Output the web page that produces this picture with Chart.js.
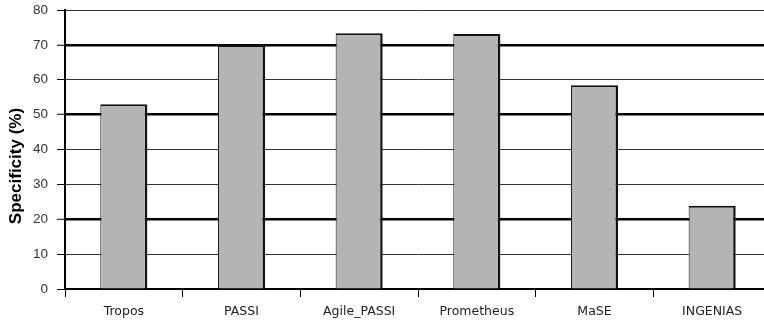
<!DOCTYPE html>
<html>
<head>
<meta charset="utf-8">
<script src="https://cdn.jsdelivr.net/npm/chart.js@4"></script>
<style>
  html, body { margin: 0; padding: 0; background: #fff; overflow: hidden; }
  #wrap { width: 771px; height: 320px; }
</style>
</head>
<body>
<div id="wrap"><canvas id="specChart" width="771" height="320"></canvas></div>
<script>
// Chart data
const methods = ['Tropos', 'PASSI', 'Agile_PASSI', 'Prometheus', 'MaSE', 'INGENIAS'];
const specificity = [53, 70, 73.3, 73.1, 58.4, 23.9];
const yTicks = [0, 10, 20, 30, 40, 50, 60, 70, 80];
const boldLines = [20, 50, 70];

const ctx = document.getElementById('specChart');
new Chart(ctx, {
    type: 'bar',
    data: {
        labels: methods,
        datasets: [{
            label: 'Specificity (%)',
            data: specificity,
            backgroundColor: '#b4b4b4',
            borderColor: '#111',
            borderWidth: { top: 2, left: 1, right: 2.5, bottom: 0 },
            borderSkipped: 'bottom',
            barPercentage: 0.4,
            categoryPercentage: 1
        }]
    },
    options: {
        responsive: false,
        devicePixelRatio: 1,
        animation: false,
        layout: { padding: { top: 10, left: 0, right: 0, bottom: 0 } },
        plugins: {
            legend: { display: false },
            tooltip: { enabled: false }
        },
        scales: {
            x: {
                offset: true,
                afterFit: s => { s.height = 31; s.paddingLeft = 0; s.paddingRight = 0; },
                grid: {
                    offset: true,
                    drawOnChartArea: false,
                    tickLength: 8,
                    tickColor: '#000',
                    tickWidth: 1
                },
                border: { color: '#000', width: 2 },
                ticks: {
                    padding: 7,
                    color: '#222',
                    font: { family: 'DejaVu Sans', size: 12.5 }
                }
            },
            y: {
                min: 0,
                max: 80,
                afterFit: s => { s.width = 65; s.paddingTop = 0; s.paddingBottom = 0; },
                afterBuildTicks: s => { s.ticks = yTicks.map(v => ({ value: v })); },
                grid: {
                    color: c => boldLines.includes(c.tick.value) ? '#000' : '#333',
                    lineWidth: c => boldLines.includes(c.tick.value) ? 2.5 : 1,
                    tickLength: 8,
                    tickColor: '#000',
                    tickWidth: 1
                },
                border: { color: '#000', width: 2 },
                ticks: {
                    padding: 9,
                    color: '#333',
                    font: { family: 'Liberation Sans', size: 13.5 }
                },
                title: {
                    display: true,
                    // trailing spaces push the label down like the original
                    text: 'Specificity (%)\u00a0\u00a0\u00a0\u00a0\u00a0\u00a0\u00a0',
                    color: '#000',
                    padding: { top: 6, bottom: 0 },
                    font: { family: 'Liberation Sans', size: 17, weight: 'bold' }
                }
            }
        }
    }
});
</script>
</body>
</html>
